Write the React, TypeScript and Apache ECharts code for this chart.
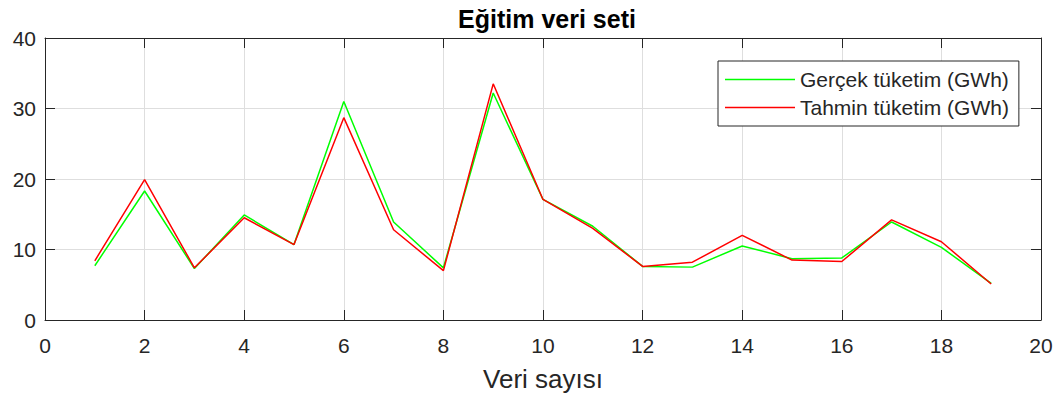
import React, { useEffect, useRef } from "react";
import * as echarts from "echarts";

const titleText = "Eğitim veri seti";
const xAxisName = "Veri sayısı";
const seriesNames = ["Gerçek tüketim (GWh)", "Tahmin tüketim (GWh)"];
const xValues = [1, 2, 3, 4, 5, 6, 7, 8, 9, 10, 11, 12, 13, 14, 15, 16, 17, 18, 19];
const actual = [7.7, 18.3, 7.3, 14.9, 10.7, 31.0, 13.9, 7.4, 32.2, 17.1, 13.3, 7.6, 7.5, 10.5, 8.7, 8.8, 13.9, 10.3, 5.2];
const predicted = [8.4, 19.9, 7.4, 14.5, 10.7, 28.7, 12.8, 7.0, 33.5, 17.1, 13.0, 7.6, 8.2, 12.0, 8.5, 8.3, 14.2, 11.1, 5.1];

const FONT = "'Liberation Sans', Arial, Helvetica, sans-serif";
const TEXT = "#262626";
const AXIS = "#262626";
const GRID = "#dedede";

export default function App() {
  const ref = useRef<HTMLDivElement>(null);
  useEffect(() => {
    if (!ref.current) return;
    const chart = echarts.init(ref.current, undefined, { renderer: "svg" });
    const axisCommon = {
      type: "value" as const,
      axisLine: { show: true, onZero: false, lineStyle: { color: AXIS, width: 1 } },
      axisTick: { show: true, inside: true, length: 10, lineStyle: { color: AXIS, width: 1 } },
    };
    chart.setOption({
      animation: false,
      backgroundColor: "#ffffff",
      textStyle: { fontFamily: FONT },
      title: {
        text: titleText,
        left: 542,
        top: 1,
        textAlign: "center",
        textStyle: { fontFamily: FONT, fontSize: 25, fontWeight: "bold", color: "#000000" },
      },
      legend: {
        left: 718,
        top: 61,
        orient: "vertical",
        itemWidth: 70,
        itemHeight: 1.5,
        itemGap: 7,
        icon: "rect",
        padding: [8, 10, 8, 7],
        borderColor: AXIS,
        borderWidth: 1,
        backgroundColor: "#ffffff",
        data: seriesNames,
        textStyle: { fontFamily: FONT, fontSize: 21, color: TEXT, lineHeight: 21 },
      },
      grid: { left: 45, right: 19, top: 38, bottom: 78 },
      xAxis: [
        {
          ...axisCommon,
          position: "bottom",
          min: 0,
          max: 20,
          interval: 2,
          name: xAxisName,
          nameLocation: "middle",
          nameGap: 46,
          nameTextStyle: { fontFamily: FONT, fontSize: 26, color: TEXT },
          axisLabel: { fontFamily: FONT, fontSize: 21, color: TEXT, margin: 15 },
          splitLine: { show: true, lineStyle: { color: GRID, width: 1 } },
        },
        {
          ...axisCommon,
          position: "top",
          min: 0,
          max: 20,
          interval: 2,
          axisLabel: { show: false },
          splitLine: { show: false },
        },
      ],
      yAxis: [
        {
          ...axisCommon,
          position: "left",
          min: 0,
          max: 40,
          interval: 10,
          axisLabel: { fontFamily: FONT, fontSize: 21, color: TEXT, margin: 9 },
          splitLine: { show: true, lineStyle: { color: GRID, width: 1 } },
        },
        {
          ...axisCommon,
          position: "right",
          min: 0,
          max: 40,
          interval: 10,
          axisLabel: { show: false },
          splitLine: { show: false },
        },
      ],
      series: [
        {
          name: seriesNames[0],
          type: "line",
          data: xValues.map((x, i) => [x, actual[i]]),
          showSymbol: false,
          symbol: "none",
          color: "#00ff00",
          lineStyle: { color: "#00ff00", width: 1.5 },
          z: 3,
        },
        {
          name: seriesNames[1],
          type: "line",
          data: xValues.map((x, i) => [x, predicted[i]]),
          showSymbol: false,
          symbol: "none",
          color: "#ff0000",
          lineStyle: { color: "#ff0000", width: 1.5 },
          z: 4,
        },
      ],
    });
    return () => chart.dispose();
  }, []);
  return (
    <div
      ref={ref}
      style={{ position: "fixed", left: 0, top: 0, width: 1060, height: 398, background: "#fff" }}
    />
  );
}
